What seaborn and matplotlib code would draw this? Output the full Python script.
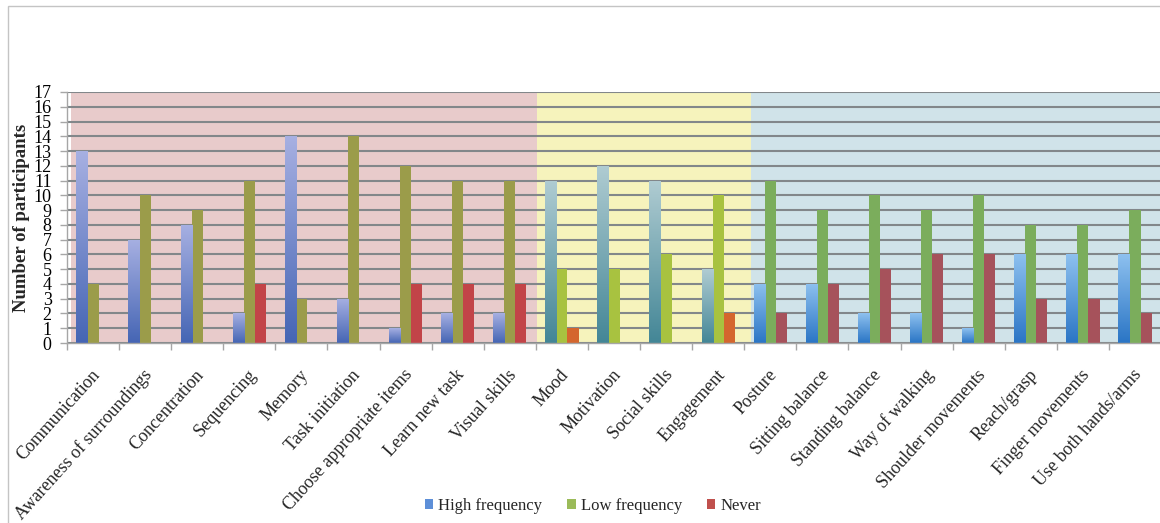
import numpy as np
import pandas as pd
import matplotlib
matplotlib.use("Agg")
import matplotlib.pyplot as plt
import matplotlib.transforms as mtransforms
import seaborn as sns
from matplotlib.colors import LinearSegmentedColormap
from matplotlib.patches import Rectangle

# ---- data -------------------------------------------------------------
items = [
    "Communication", "Awareness of surroundings", "Concentration", "Sequencing",
    "Memory", "Task initiation", "Choose appropriate items", "Learn new task",
    "Visual skills", "Mood", "Motivation", "Social skills", "Engagement",
    "Posture", "Sitting balance", "Standing balance", "Way of walking",
    "Shoulder movements", "Reach/grasp", "Finger movements", "Use both hands/arms",
]
high_freq = [13, 7, 8, 2, 14, 3, 1, 2, 2, 11, 12, 11, 5, 4, 4, 2, 2, 1, 6, 6, 6]
low_freq = [4, 10, 9, 11, 3, 14, 12, 11, 11, 5, 5, 6, 10, 11, 9, 10, 9, 10, 8, 8, 9]
never = [0, 0, 0, 4, 0, 0, 4, 4, 4, 1, 0, 0, 2, 2, 4, 5, 6, 6, 3, 3, 2]
series = ["High frequency", "Low frequency", "Never"]

# number of items in each domain (cognitive, emotional/social, physical)
domain_sizes = [9, 4, 8]

# ---- styling ----------------------------------------------------------
domain_bg = ["#E8CBCB", "#F6F3BC", "#D0E3E9"]
high_grad = [("#A7B0E2", "#4565B4"), ("#B0CCD2", "#438696"), ("#8EC1EF", "#2A75C5")]
low_cols = ["#9B9C4A", "#A8C240", "#7BAD5C"]
never_cols = ["#C24448", "#D4662E", "#A6525B"]
legend_cols = ["#5D8FD8", "#9BBB59", "#C0504D"]
grid_col = "#82878A"
axis_col = "#A6A6A6"

records = []
for name, vals in zip(series, [high_freq, low_freq, never]):
    for it, v in zip(items, vals):
        records.append({"item": it, "series": name, "count": v})
df = pd.DataFrame(records)

sns.set_theme(style="white")
plt.rcParams["font.family"] = ["Liberation Serif", "DejaVu Serif"]

W, H = 1160, 523
fig = plt.figure(figsize=(W / 100, H / 100), dpi=100)
ax = fig.add_axes([67 / W, 1 - 343 / H, (1161 - 67) / W, (343 - 92) / H])

sns.barplot(
    data=df, x="item", y="count", hue="series", order=items, hue_order=series,
    palette=legend_cols, saturation=1, width=0.64, errorbar=None, legend=False,
    linewidth=0, ax=ax,
)

# domain of each item
domain_of = np.repeat(np.arange(len(domain_sizes)), domain_sizes)

# shaded domain backgrounds
bounds = [-0.42, 8.52, 12.63, 20.6]
for d in range(3):
    ax.axvspan(bounds[d], bounds[d + 1], color=domain_bg[d], lw=0, zorder=0)

# recolour bars; the first series gets a vertical gradient
grad = np.linspace(1, 0, 256).reshape(-1, 1)
for k, cont in enumerate(ax.containers):
    for i, bar in enumerate(cont.patches):
        d = domain_of[i]
        bar.set_linewidth(0)
        bar.set_zorder(2)
        if k == 0:
            top, bottom = high_grad[d]
            bar.set_facecolor(bottom)
            h = bar.get_height()
            if h > 0:
                cmap = LinearSegmentedColormap.from_list("g", [bottom, top])
                x0 = bar.get_x()
                im = ax.imshow(grad, cmap=cmap, aspect="auto", origin="upper",
                               extent=(x0, x0 + bar.get_width(), 0, h),
                               zorder=2.1, interpolation="bilinear")
                im.set_clip_path(bar)
        elif k == 1:
            bar.set_facecolor(low_cols[d])
        else:
            bar.set_facecolor(never_cols[d])

ax.set_xlim(-0.5, 20.5)
ax.set_ylim(0, 17)
ax.set_yticks(range(0, 18))
ax.yaxis.grid(True, color=grid_col, lw=1.5)
ax.set_axisbelow(True)
for gl in ax.get_ygridlines():
    gl.set_zorder(0.5)

for s in ["top", "right"]:
    ax.spines[s].set_visible(False)
for s in ["left", "bottom"]:
    ax.spines[s].set_color(axis_col)
    ax.spines[s].set_linewidth(1)

ax.set_xlabel("")
ax.set_ylabel("")
ax.tick_params(axis="y", length=5, width=1, color=axis_col, pad=6,
               labelsize=13, labelcolor="black", left=True)
ax.set_xticks(np.arange(-0.5, 21, 1), minor=True)
ax.tick_params(axis="x", which="minor", length=5, width=1, color=axis_col,
               direction="out", bottom=True)
ax.tick_params(axis="x", which="major", length=0, pad=21)
ax.set_xticks(range(len(items)))
ax.set_xticklabels(items, rotation=48, ha="right", va="center",
                   rotation_mode="anchor", fontsize=13)
shift = mtransforms.ScaledTranslation(4 / 100, 0, fig.dpi_scale_trans)
for lab in ax.get_xticklabels():
    lab.set_transform(lab.get_transform() + shift)

fig.text(22 / W, 1 - 218 / H, "Number of participants", rotation=90,
         ha="center", va="center", fontsize=13.5, fontweight="bold")

handles = [Rectangle((0, 0), 1, 1, facecolor=c, lw=0) for c in legend_cols]
fig.legend(handles, series, loc="center", bbox_to_anchor=(593 / W, 1 - 506 / H),
           ncol=3, frameon=False, fontsize=12, handlelength=0.5,
           handleheight=0.5, handletextpad=0.3, columnspacing=1.5)

# outer chart frame
fig.patches.append(Rectangle((8 / W, -0.05), 1.2, 1 - 6 / H + 0.05,
                             transform=fig.transFigure, fill=False,
                             edgecolor="#C4C4C4", lw=1))

fig.savefig("out.png", dpi=100)
